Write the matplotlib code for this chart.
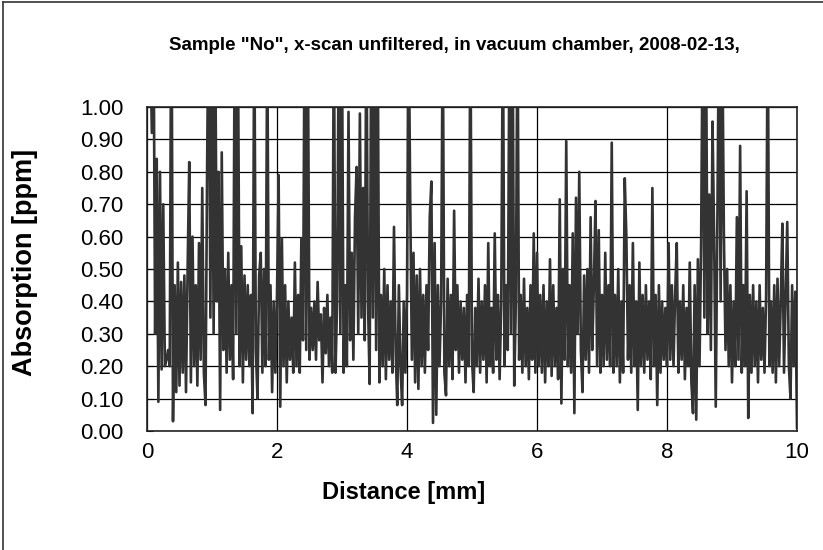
import numpy as np
import matplotlib
matplotlib.use("Agg")
import matplotlib.pyplot as plt
from matplotlib.lines import Line2D

plt.rcParams['font.family'] = ['Liberation Sans', 'DejaVu Sans']

# scan sampled every 0.025 mm starting at 0.05 mm
x_start = 0.05
x_step = 0.025

# values, ppm (values > 1 are clipped by the axis)
absorption_0_to_2mm = [
    1.20, 0.92, 1.30, 0.30, 0.84, 0.09, 0.80, 0.19, 0.70, 0.20,
    0.22, 0.25, 0.20, 1.50, 0.03, 0.45, 0.12, 0.52, 0.14, 0.46,
    0.18, 0.48, 0.12, 0.50, 0.83, 0.15, 0.60, 0.20, 0.45, 0.14,
    0.58, 0.22, 0.75, 0.18, 0.08, 0.82, 1.40, 0.35, 1.30, 0.30,
    1.20, 0.40, 0.80, 0.065, 0.86, 0.25, 0.50, 0.18, 0.55, 0.22,
    0.45, 0.16, 1.30, 0.30, 1.20, 0.20, 0.57, 0.15, 0.48, 0.22,
    0.45, 0.20, 0.42, 0.055, 1.30, 0.25, 0.10, 0.48, 0.55, 0.18,
    0.50, 0.20, 1.25, 0.22, 0.45, 0.12, 0.40, 0.18, 0.42, 0.79,
]
absorption_2_to_4mm = [
    0.075, 0.595, 0.20, 0.45, 0.15, 0.40, 0.22, 0.35, 0.18, 0.52,
    0.20, 0.42, 0.18, 0.595, 0.28, 1.30, 0.25, 1.20, 0.22, 0.38,
    0.25, 0.40, 0.22, 0.46, 0.28, 0.36, 0.15, 0.38, 0.24, 0.42,
    0.20, 0.35, 0.18, 1.30, 0.18, 0.40, 1.25, 0.30, 1.20, 0.18,
    0.45, 0.20, 0.985, 0.28, 0.55, 0.22, 0.66, 0.815, 0.30, 0.98,
    0.35, 0.75, 0.28, 1.30, 0.40, 0.145, 1.25, 0.35, 1.20, 0.25,
    1.20, 0.15, 0.42, 0.20, 0.50, 0.16, 0.45, 0.22, 0.40, 0.18,
    0.63, 0.25, 0.08, 0.45, 0.20, 0.08, 0.40, 0.18, 0.42, 1.30,
]
absorption_4_to_6mm = [
    0.70, 0.22, 0.55, 0.15, 0.48, 0.13, 0.50, 0.20, 0.42, 0.18,
    0.45, 0.25, 0.66, 0.77, 0.025, 0.58, 0.05, 0.45, 0.20, 0.40,
    1.30, 0.18, 0.11, 0.47, 0.20, 0.42, 0.16, 0.68, 0.25, 0.45,
    0.18, 0.40, 0.22, 0.38, 0.15, 0.42, 0.20, 1.30, 0.22, 0.12,
    0.38, 0.20, 0.47, 0.18, 0.40, 0.22, 0.45, 0.15, 0.58, 0.20,
    0.38, 0.18, 0.61, 0.22, 0.42, 0.16, 0.40, 1.30, 0.20, 0.45,
    0.25, 1.20, 0.30, 1.25, 0.14, 0.40, 1.30, 0.22, 0.42, 0.18,
    0.47, 0.20, 0.38, 0.16, 0.45, 0.22, 0.61, 0.18, 0.55, 0.20,
]
absorption_6_to_8mm = [
    0.42, 0.18, 0.45, 0.15, 0.40, 0.20, 0.53, 0.17, 0.45, 0.20,
    0.38, 0.16, 0.715, 0.085, 0.50, 0.22, 0.895, 0.20, 0.45, 0.18,
    0.61, 0.055, 0.72, 0.30, 0.80, 0.25, 0.12, 0.48, 0.22, 0.50,
    0.18, 0.66, 0.25, 0.45, 0.71, 0.20, 0.62, 0.18, 0.42, 0.20,
    0.55, 0.22, 0.45, 0.20, 0.89, 0.18, 0.42, 0.20, 0.50, 0.15,
    0.40, 0.18, 0.78, 0.60, 0.22, 0.45, 0.18, 0.58, 0.20, 0.40,
    0.065, 0.52, 0.20, 0.42, 0.18, 0.45, 0.22, 0.40, 0.16, 0.75,
    0.20, 0.42, 0.08, 0.45, 0.18, 0.40, 0.22, 0.38, 0.20, 0.58,
]
absorption_8_to_10mm = [
    0.22, 0.45, 0.20, 0.42, 0.58, 0.18, 0.40, 0.22, 0.45, 0.16,
    0.38, 0.20, 0.52, 0.15, 0.055, 0.45, 0.035, 0.53, 0.20, 0.58,
    1.30, 0.35, 1.25, 0.30, 0.73, 0.25, 0.955, 0.60, 0.075, 0.65,
    1.30, 0.40, 1.25, 0.61, 0.25, 0.50, 0.20, 0.45, 0.15, 0.40,
    0.20, 0.66, 0.22, 0.88, 0.18, 0.45, 0.20, 0.74, 0.04, 0.42,
    0.18, 0.45, 0.20, 0.40, 0.15, 0.45, 0.22, 0.38, 0.18, 0.42,
    1.30, 0.20, 0.40, 0.18, 0.45, 0.15, 0.47, 0.20, 0.40, 0.64,
    0.18, 0.42, 0.645, 0.20, 0.10, 0.45, 0.20, 0.43, 0.01,
]

y_ticks = np.arange(0, 1.01, 0.1)
x_ticks = [0, 2, 4, 6, 8, 10]

absorption = np.array(absorption_0_to_2mm + absorption_2_to_4mm + absorption_4_to_6mm
                      + absorption_6_to_8mm + absorption_8_to_10mm)
distance = x_start + x_step * np.arange(len(absorption))

fig = plt.figure(figsize=(8.23, 5.5), dpi=100)
ax = fig.add_axes([147/823, 1 - 431/550, 650/823, 324/550])

ax.plot(distance, absorption, color='#333333', lw=1.9)

ax.set_xlim(0, 10)
ax.set_ylim(0, 1)
ax.set_xticks(x_ticks)
ax.set_yticks(y_ticks)
ax.set_yticklabels([f"{v:.2f}" for v in y_ticks])
ax.grid(True, color='black', lw=0.9)
ax.set_axisbelow(True)
for s in ax.spines.values():
    s.set_linewidth(1.2)
    s.set_color('#222222')
ax.tick_params(axis='y', direction='in', length=4, pad=17, labelsize=16)
ax.tick_params(axis='x', direction='in', length=0, pad=8, labelsize=16)

fig.text(0.552, 0.918, 'Sample "No", x-scan unfiltered, in vacuum chamber, 2008-02-13,',
         ha='center', va='center', fontsize=13.5, fontweight='bold')
fig.text(0.03, 0.523, 'Absorption [ppm]', rotation=90, ha='center', va='center',
         fontsize=19.5, fontweight='bold')
fig.text(0.49, 0.105, 'Distance [mm]', ha='center', va='center',
         fontsize=17, fontweight='bold')

# chart-area border (left and top edges visible)
fig.add_artist(Line2D([3/823, 3/823], [0, 1 - 2/550], color='#333333', lw=1.2))
fig.add_artist(Line2D([3/823, 1], [1 - 2/550, 1 - 2/550], color='#333333', lw=1.2))

fig.savefig('out.png', dpi=100)
